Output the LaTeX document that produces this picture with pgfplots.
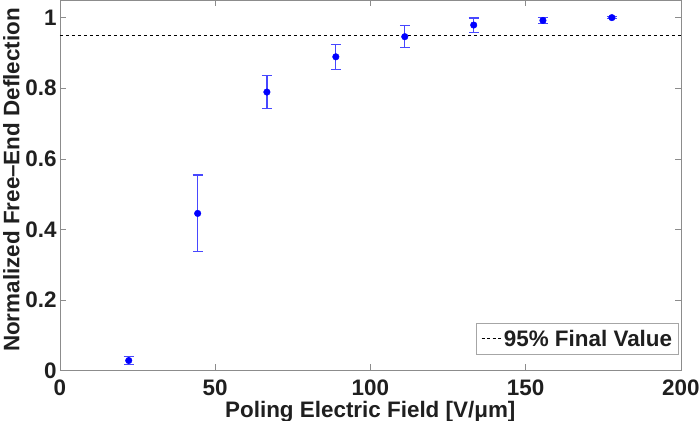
\documentclass[border=0pt]{standalone}
\usepackage{pgfplots}
\pgfplotsset{compat=1.18}
\usepackage{fontspec}
\setmainfont{Liberation Sans}
\usetikzlibrary{calc}

\newcommand{\labfont}{\bfseries\fontsize{22.5}{27}\selectfont}

\begin{document}
\begin{tikzpicture}
\begin{axis}[
  scale only axis,
  width=621bp, height=370.4bp,
  xmin=0, xmax=200, ymin=0, ymax=1.05,
  xtick={0,50,100,150,200},
  ytick={0,0.2,0.4,0.6,0.8,1},
  yticklabels={0,0.2,0.4,0.6,0.8,1},
  xticklabels={0,50,100,150,200},
  tick align=inside,
  major tick length=6bp,
  axis line style={black!45},
  every tick/.style={black!45},
  /pgf/number format/assume math mode=true,
  every tick label/.append style={font=\labfont, text=black!88},
  xticklabel style={anchor=base, yshift=-25bp, inner sep=0pt},
  yticklabel style={anchor=east, inner sep=0pt, xshift=-3bp},
  xlabel={Poling Electric Field [V/μm]},
  ylabel={Normalized Free–End Deflection},
  xlabel style={font=\labfont, text=black!88, at={(rel axis cs:0.5,-0.126)}, anchor=base, inner sep=0pt},
  ylabel style={font=\labfont, text=black!88, at={(rel axis cs:-0.0649,0.514)}, anchor=base, inner sep=0pt},
  legend style={font=\labfont, text=black!88, draw=black!35, fill=white,
    at={(rel axis cs:0.9968,0.0434)}, anchor=south east,
    inner xsep=4.5bp, inner ysep=4.5bp},
  legend image code/.code={\draw[black, dash pattern=on 3bp off 2.5bp, line width=0.8bp] (0bp,0bp) -- (20bp,0bp);},
]
\addplot[black, dash pattern=on 3.5bp off 2.5bp, line width=0.9bp] coordinates {(0,0.95) (200,0.95)};
\addlegendentry{95\% Final Value}
\addplot[blue, only marks, mark=*, mark size=3.3bp,
  error bars/.cd, y dir=both, y explicit,
  error bar style={blue!72, line width=1.2bp},
  error mark options={rotate=90, blue!72, mark size=5bp, line width=1.2bp}]
  coordinates {
  (22.2,0.028) +- (0,0.012)
  (44.4,0.445) +- (0,0.109)
  (66.7,0.789) +- (0,0.047)
  (88.9,0.889) +- (0,0.035)
  (111.1,0.946) +- (0,0.031)
  (133.3,0.979) +- (0,0.020)
  (155.6,0.992) +- (0,0.009)
  (177.8,1.000) +- (0,0.003)
  };
\end{axis}
\pgfresetboundingbox
\useasboundingbox ($(current axis.south west)+(-59.8bp,-50.6bp)$) rectangle ($(current axis.north east)+(19.2bp,0bp)$);
\end{tikzpicture}
\end{document}
